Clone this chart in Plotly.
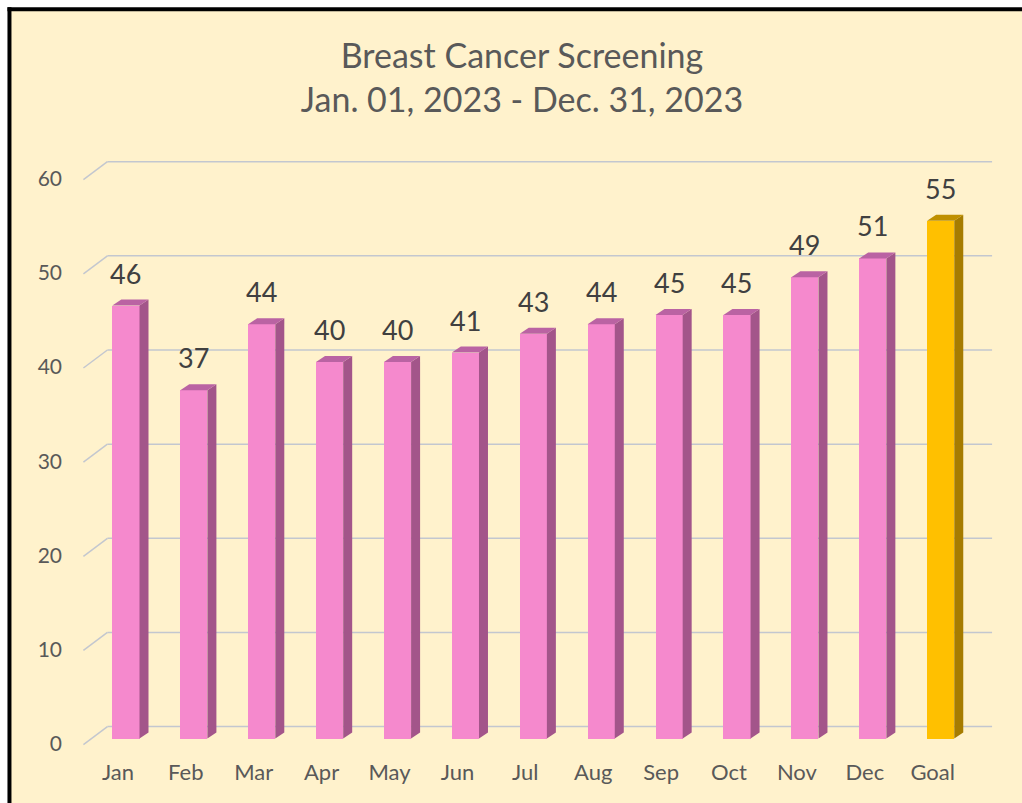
import plotly.graph_objects as go

categories = ["Jan", "Feb", "Mar", "Apr", "May", "Jun", "Jul", "Aug", "Sep", "Oct", "Nov", "Dec", "Goal"]
values = [46, 37, 44, 40, 40, 41, 43, 44, 45, 45, 49, 51, 55]
y_ticks = [0, 10, 20, 30, 40, 50, 60]

W, H = 1022, 803
L, R, T, B = 74.56, 27.1, 152.8, 54.6
X_RANGE = [-0.75, 12.8]
Y_RANGE = [-1.0, 62.2]
PW, PH = W - L - R, H - T - B
KX = PW / (X_RANGE[1] - X_RANGE[0])
KY = PH / (Y_RANGE[1] - Y_RANGE[0])

PINK = dict(front="#F589CD", side="#A3558A", top="#BA63A3")
GOLD = dict(front="#FFC000", side="#A67C00", top="#BF9000")
BG = "#FFF2CC"
GRID = "#C3C7CF"
TXT = "#595959"
FONT = "Lato"

BAR_W = 0.4
DX = 9 / KX        # bar depth offset (x)
DY = 6 / KY        # bar depth offset (y)
FLOOR_DX = 24 / KX
FLOOR_FRONT = -6 / KY
FLOOR_BACK = 12 / KY
FLOOR_LEFT = -0.626

xs = list(range(len(categories)))
pal = [PINK] * 12 + [GOLD]

fig = go.Figure()
fig.add_trace(go.Bar(
    x=xs, y=values, width=BAR_W,
    marker=dict(color=[p["front"] for p in pal], line=dict(width=0)),
    hoverinfo="skip", showlegend=False,
))

shapes = []


def px2paper_x(px):
    return (px - L) / PW


def px2paper_y(py):
    return (H - B - py) / PH


# chart area background (cream) and the visible top/left black border
shapes.append(dict(type="rect", xref="paper", yref="paper",
                   x0=px2paper_x(9), x1=px2paper_x(W + 50),
                   y0=px2paper_y(H + 50), y1=px2paper_y(9),
                   line=dict(width=0), fillcolor=BG, layer="below"))
shapes.append(dict(type="line", xref="paper", yref="paper",
                   x0=px2paper_x(7), x1=px2paper_x(W + 50),
                   y0=px2paper_y(9), y1=px2paper_y(9),
                   line=dict(color="black", width=4), layer="below"))
shapes.append(dict(type="line", xref="paper", yref="paper",
                   x0=px2paper_x(9), x1=px2paper_x(9),
                   y0=px2paper_y(7), y1=px2paper_y(H + 50),
                   line=dict(color="black", width=4), layer="below"))

# 3D gridlines: diagonal on the side wall + horizontal on the back wall
for v in y_ticks:
    shapes.append(dict(type="line", xref="x", yref="y",
                       x0=FLOOR_LEFT, y0=v + FLOOR_FRONT,
                       x1=FLOOR_LEFT + FLOOR_DX, y1=v + FLOOR_BACK,
                       line=dict(color=GRID, width=1.5), layer="below"))
    shapes.append(dict(type="line", xref="x", yref="y",
                       x0=FLOOR_LEFT + FLOOR_DX, y0=v + FLOOR_BACK,
                       x1=12.757, y1=v + FLOOR_BACK,
                       line=dict(color=GRID, width=1.5), layer="below"))

# bar side and top faces
for x, v, p in zip(xs, values, pal):
    xr = x + BAR_W / 2
    xl = x - BAR_W / 2
    side = f"M {xr},0 L {xr + DX},{DY} L {xr + DX},{v + DY} L {xr},{v} Z"
    top = f"M {xl},{v} L {xr},{v} L {xr + DX},{v + DY} L {xl + DX},{v + DY} Z"
    shapes.append(dict(type="path", xref="x", yref="y", path=side,
                       fillcolor=p["side"], line=dict(width=0), layer="above"))
    shapes.append(dict(type="path", xref="x", yref="y", path=top,
                       fillcolor=p["top"], line=dict(width=0), layer="above"))

annotations = []
for x, v in zip(xs, values):
    annotations.append(dict(x=x, y=v, xref="x", yref="y", text=str(v),
                            showarrow=False, yanchor="bottom", yshift=14,
                            font=dict(family=FONT, size=27, color="#404040")))

fig.update_layout(
    width=W, height=H,
    margin=dict(l=L, r=R, t=T, b=B, pad=0),
    paper_bgcolor="white",
    plot_bgcolor="rgba(0,0,0,0)",
    shapes=shapes,
    annotations=annotations,
    bargap=0,
    title=dict(
        text="Breast Cancer Screening<br>Jan. 01, 2023 - Dec. 31, 2023",
        x=522 / W, xref="container", xanchor="center",
        y=1 - 68 / H, yref="container", yanchor="top",
        font=dict(family=FONT, size=34, color=TXT),
    ),
    xaxis=dict(range=X_RANGE, tickvals=xs, ticktext=categories,
               showgrid=False, zeroline=False, showline=False, ticks="",
               ticklabelshift=-8, ticklabelstandoff=9,
               tickfont=dict(family=FONT, size=22, color=TXT), fixedrange=True),
    yaxis=dict(range=Y_RANGE, tickvals=y_ticks,
               showgrid=False, zeroline=False, showline=False, ticks="",
               ticklabelshift=5, ticklabelstandoff=12,
               tickfont=dict(family=FONT, size=21, color=TXT), fixedrange=True),
    font=dict(family=FONT),
)

fig.write_html(
    "out.html",
    config={"displayModeBar": False},
    post_script="document.body.style.margin='0';"
                "document.documentElement.style.overflow='hidden';"
                "document.body.style.overflow='hidden';",
)
